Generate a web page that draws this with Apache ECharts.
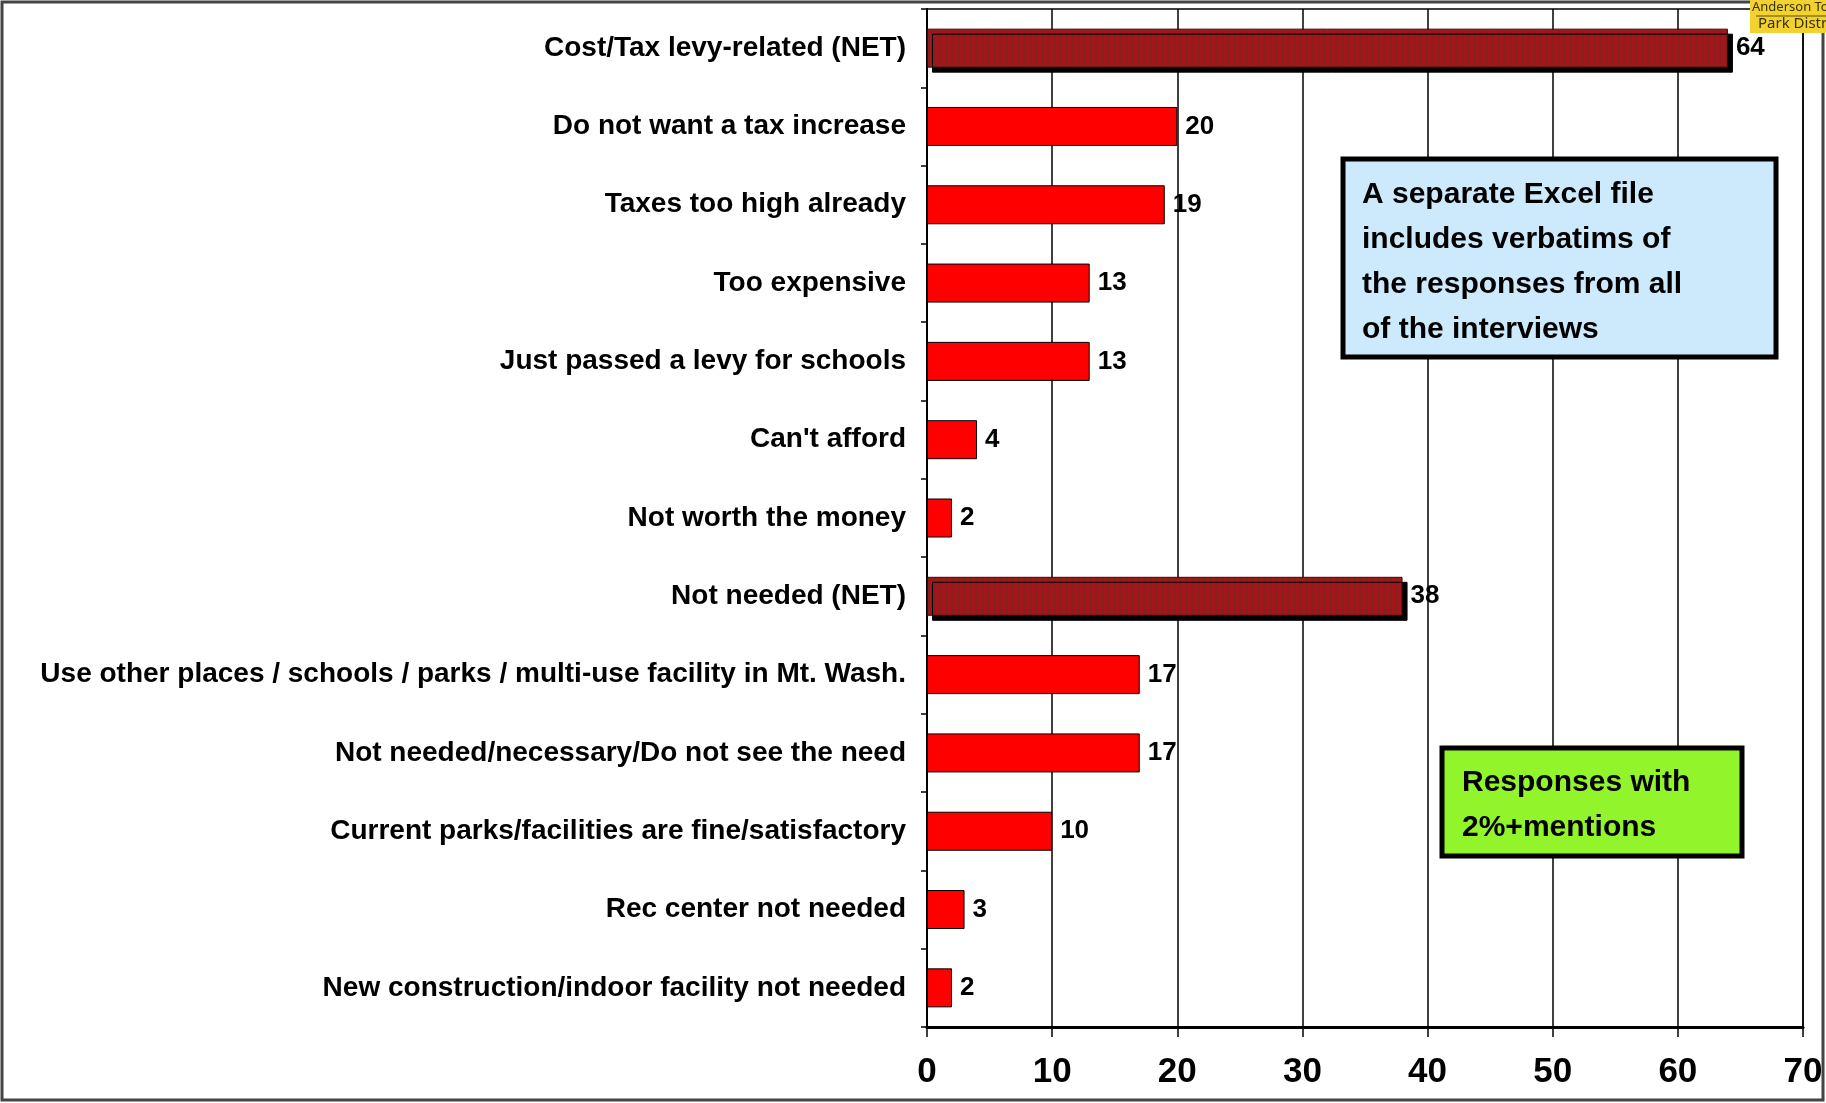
<!DOCTYPE html>
<html><head><meta charset="utf-8">
<script src="https://cdn.jsdelivr.net/npm/echarts@6/dist/echarts.min.js"></script>
<style>html,body{margin:0;padding:0;background:#fff}#c{width:1826px;height:1103px}</style>
</head><body><div id="c"></div>
<script>
const categories = [
  "Cost/Tax levy-related (NET)",
  "Do not want a tax increase",
  "Taxes too high already",
  "Too expensive",
  "Just passed a levy for schools",
  "Can't afford",
  "Not worth the money",
  "Not needed (NET)",
  "Use other places / schools / parks / multi-use facility in Mt. Wash.",
  "Not needed/necessary/Do not see the need",
  "Current parks/facilities are fine/satisfactory",
  "Rec center not needed",
  "New construction/indoor facility not needed"
];
const values = [64, 20, 19, 13, 13, 4, 2, 38, 17, 17, 10, 3, 2];
const isNet = [true, false, false, false, false, false, false, true, false, false, false, false, false];
const xTicks = [0, 10, 20, 30, 40, 50, 60, 70];
const noteBlue = ["A separate Excel file", "includes verbatims of", "the responses from all", "of the interviews"];
const noteGreen = ["Responses with", "2%+mentions"];

// stripe pattern for NET bars
const pc = document.createElement('canvas');
pc.width = 6; pc.height = 4;
const px = pc.getContext('2d');
px.fillStyle = '#a3171b'; px.fillRect(0, 0, 3, 4);
px.fillStyle = '#87201f'; px.fillRect(3, 0, 3, 4);

const data = values.map((v, i) => isNet[i] ? {
  value: v,
  itemStyle: {
    color: {image: pc, repeat: 'repeat'},
    borderColor: '#3a0a0a', borderWidth: 1,
    shadowColor: '#000', shadowOffsetX: 5, shadowOffsetY: 5, shadowBlur: 0
  }
} : v);

const chart = echarts.init(document.getElementById('c'));
const FONT = 'Arial, "Liberation Sans", sans-serif';
chart.setOption({
  animation: false,
  backgroundColor: '#fff',
  grid: {left: 927, right: 23, top: 9, bottom: 76, show: true, borderColor: '#000', borderWidth: 1.5},
  xAxis: {
    type: 'value', min: 0, max: 70, interval: 10,
    axisLine: {show: true, lineStyle: {color: '#000', width: 3}},
    axisTick: {show: true, length: 10, lineStyle: {color: '#000', width: 1.5}},
    splitLine: {show: true, lineStyle: {color: '#000', width: 1.5}},
    axisLabel: {
      margin: 28, color: '#000', fontWeight: 'bold', fontSize: 35,
      fontFamily: '"Liberation Sans Narrow", Arial, "Liberation Sans", sans-serif',
      formatter: v => xTicks.includes(v) ? String(v) : ''
    }
  },
  yAxis: {
    type: 'category', data: categories, inverse: true,
    axisLine: {show: true, lineStyle: {color: '#000', width: 2}},
    axisTick: {show: true, length: 6, lineStyle: {color: '#000', width: 1.5}},
    axisLabel: {margin: 21, color: '#000', fontWeight: 'bold', fontSize: 28, fontFamily: FONT}
  },
  series: [{
    type: 'bar', data: data, barWidth: 39,
    itemStyle: {color: '#ff0000', borderColor: '#000', borderWidth: 1},
    label: {show: true, position: 'right', distance: 8, color: '#000', fontWeight: 'bold', fontSize: 26, fontFamily: FONT}
  }],
  graphic: [
    {type: 'rect', shape: {x: 2, y: 2, width: 1821, height: 1098}, style: {fill: 'none', stroke: '#444', lineWidth: 3}, z: 100},
    {type: 'rect', shape: {x: 1750, y: 0, width: 76, height: 33}, style: {fill: '#f2d230'}, z: 101},
    {type: 'line', shape: {x1: 1756, y1: 16, x2: 1826, y2: 16}, style: {stroke: '#5a4a10', lineWidth: 1}, z: 102},
    {type: 'text', x: 1752, y: 1, style: {text: 'Anderson Township', fill: '#3a3000', font: '13px "Noto Sans", sans-serif'}, z: 102},
    {type: 'text', x: 1758, y: 16, style: {text: 'Park District', fill: '#3a3000', font: '15px "Noto Sans", sans-serif'}, z: 102},
    {type: 'rect', shape: {x: 1343, y: 159, width: 433, height: 198}, style: {fill: '#cceafb', stroke: '#000', lineWidth: 5}, z: 50},
    {type: 'text', x: 1362, y: 172, style: {text: noteBlue.join('\n'), lineHeight: 45, fill: '#000', font: 'bold 30px Arial, "Liberation Sans", sans-serif'}, z: 51},
    {type: 'rect', shape: {x: 1442, y: 748, width: 300, height: 108}, style: {fill: '#92f52c', stroke: '#000', lineWidth: 5}, z: 50},
    {type: 'text', x: 1462, y: 760, style: {text: noteGreen.join('\n'), lineHeight: 45, fill: '#000', font: 'bold 30px Arial, "Liberation Sans", sans-serif'}, z: 51}
  ]
});
</script></body></html>
